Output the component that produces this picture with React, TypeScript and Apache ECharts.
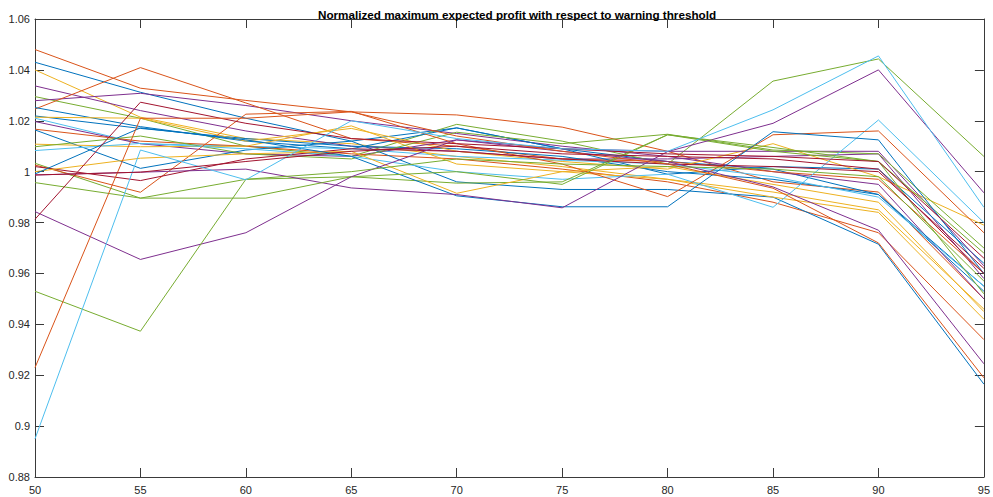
import React, { useEffect, useRef } from "react";
import * as echarts from "echarts";

const thresholds = [50, 55, 60, 65, 70, 75, 80, 85, 90, 95];

const B = "#0072BD", O = "#D95319", Y = "#EDB120", P = "#7E2F8E", G = "#77AC30", C = "#4DBEEE", R = "#A2142F";

const lineColors = [O, B, Y, P, G, P, O, B, B, Y, C, P, O, B, Y, G, C, G, O, R, Y, B, P, G, P, R, G, O, C, R];

const s01 = [1.048, 1.0328, 1.028, 1.0235, 1.0223, 1.0175, 1.008, 0.996, 0.992, 0.950];
const s02 = [1.043, 1.0312, 1.021, 1.012, 1.0172, 1.009, 1.004, 1.001, 0.991, 0.953];
const s03 = [1.040, 1.0214, 1.013, 1.011, 1.006, 1.002, 0.997, 0.992, 0.985, 0.946];
const s04 = [1.0337, 1.024, 1.016, 1.010, 1.008, 1.005, 1.005, 1.006, 1.007, 0.958];
const s05 = [1.0295, 1.021, 1.010, 1.006, 1.0186, 1.012, 1.003, 1.0356, 1.0443, 1.006];
const s06 = [1.0279, 1.0308, 1.026, 1.020, 1.015, 1.010, 1.006, 1.000, 0.995, 0.950];
const s07 = [1.0246, 1.0409, 1.027, 1.013, 1.010, 1.005, 1.004, 1.000, 0.997, 0.960];
const s08 = [1.0252, 1.0177, 1.012, 1.009, 1.0172, 1.009, 0.999, 1.002, 1.001, 0.964];
const s09 = [1.0219, 1.0170, 1.013, 1.010, 1.009, 1.006, 1.000, 0.997, 0.991, 0.955];
const s10 = [1.0214, 1.021, 1.012, 1.017, 1.008, 1.004, 1.001, 1.011, 0.998, 0.979];
const s11 = [1.021, 1.011, 1.010, 1.009, 1.006, 1.0045, 1.003, 0.998, 0.990, 0.955];
const s12 = [1.0197, 1.011, 1.007, 1.006, 1.0125, 1.009, 1.008, 1.008, 1.008, 0.963];
const s13 = [1.0167, 1.012, 1.010, 1.007, 1.005, 1.001, 0.996, 0.988, 0.976, 0.934];
const s14 = [1.0164, 1.0013, 1.0085, 1.012, 0.996, 0.993, 0.993, 0.990, 0.9715, 0.9165];
const s15 = [1.0108, 1.0098, 1.010, 1.018, 1.003, 1.000, 0.997, 0.990, 0.984, 0.942];
const s16 = [1.0098, 1.014, 1.007, 1.005, 1.0155, 1.011, 1.0147, 1.0085, 1.007, 0.970];
const s17 = [1.0083, 1.0111, 1.009, 1.006, 1.000, 0.997, 0.999, 0.986, 1.0203, 0.980];
const s18 = [1.0033, 0.9896, 0.997, 0.998, 0.9955, 0.996, 1.0145, 1.008, 1.004, 0.968];
const s19 = [1.0026, 0.9919, 1.0226, 1.0237, 1.011, 1.003, 0.9902, 1.0145, 1.016, 0.976];
const s20 = [1.002, 0.9965, 1.005, 1.009, 1.008, 1.005, 1.003, 1.002, 1.000, 0.962];
const s21 = [1.000, 1.0053, 1.007, 1.008, 0.9915, 1.000, 1.002, 0.995, 0.988, 0.945];
const s22 = [0.9991, 1.0172, 1.0125, 1.006, 0.9905, 0.9862, 0.9862, 1.0157, 1.0125, 0.960];
const s23 = [0.9987, 0.9998, 1.001, 0.9936, 0.991, 0.9858, 1.0079, 1.019, 1.040, 0.9917];
const s24 = [0.9957, 0.9896, 0.9896, 0.998, 1.000, 0.995, 1.0145, 1.0095, 1.004, 0.952];
const s25 = [0.9843, 0.9655, 0.976, 0.998, 1.0125, 1.008, 1.004, 0.994, 0.977, 0.9245];
const s26 = [0.9813, 1.0273, 1.019, 1.013, 1.011, 1.009, 1.007, 1.006, 1.004, 0.966];
const s27 = [0.953, 0.9373, 0.997, 1.000, 1.005, 1.003, 1.002, 1.001, 0.998, 0.957];
const s28 = [0.923, 1.021, 1.021, 1.0235, 1.014, 1.008, 1.003, 0.9935, 0.972, 0.919];
const s29 = [0.895, 1.0085, 0.9968, 1.020, 1.013, 1.009, 1.008, 1.0243, 1.0455, 0.986];
const s30 = [0.9987, 0.9998, 1.004, 1.008, 1.010, 1.007, 1.006, 1.005, 1.001, 0.960];

const allSeries = [s01, s02, s03, s04, s05, s06, s07, s08, s09, s10, s11, s12, s13, s14, s15,
  s16, s17, s18, s19, s20, s21, s22, s23, s24, s25, s26, s27, s28, s29, s30];

const yMin = 0.88, yMax = 1.06, yStep = 0.02;
const xMin = 50, xMax = 95, xStep = 5;

export default function App() {
  const ref = useRef<HTMLDivElement>(null);
  useEffect(() => {
    if (!ref.current) return;
    const chart = echarts.init(ref.current, null, { renderer: "svg" });
    const axisColor = "#3a3a3a";
    const font = "Liberation Sans, Arial, Helvetica, sans-serif";
    const baseX = {
      type: "value",
      min: xMin, max: xMax, interval: xStep,
      splitLine: { show: false },
      axisLine: { show: true, onZero: false, lineStyle: { color: axisColor, width: 1 } },
      axisTick: { show: true, inside: true, length: 9, lineStyle: { color: axisColor } },
    };
    const baseY = {
      type: "value",
      min: yMin, max: yMax, interval: yStep,
      splitLine: { show: false },
      axisLine: { show: true, onZero: false, lineStyle: { color: axisColor, width: 1 } },
      axisTick: { show: true, inside: true, length: 9, lineStyle: { color: axisColor } },
    };
    chart.setOption({
      animation: false,
      backgroundColor: "#ffffff",
      title: {
        text: "Normalized maximum expected profit with respect to warning threshold",
        left: 512, top: 3, textAlign: "center",
        textStyle: { fontSize: 11.7, fontWeight: "bold", color: "#000", fontFamily: font },
      },
      grid: { left: 35, right: 5, top: 19, bottom: 20, containLabel: false },
      xAxis: [
        { ...baseX, position: "bottom",
          axisLabel: { show: true, margin: 7, fontSize: 11, color: "#262626", fontFamily: font } },
        { ...baseX, position: "top", axisLabel: { show: false } },
      ],
      yAxis: [
        { ...baseY, position: "left",
          axisLabel: { show: true, margin: 5, fontSize: 11, color: "#262626", fontFamily: font,
            formatter: (v: number) => String(parseFloat(v.toFixed(2))) } },
        { ...baseY, position: "right", axisLabel: { show: false } },
      ],
      series: allSeries.map((vals, i) => ({
        type: "line",
        xAxisIndex: 0, yAxisIndex: 0,
        data: thresholds.map((t, j) => [t, vals[j]]),
        showSymbol: false, symbol: "none",
        lineStyle: { color: lineColors[i], width: 1 },
        itemStyle: { color: lineColors[i] },
        emphasis: { disabled: true },
        silent: true,
      })),
    });
    return () => chart.dispose();
  }, []);
  return <div ref={ref} style={{ position: "absolute", left: 0, top: 0, width: 993, height: 497 }} />;
}
